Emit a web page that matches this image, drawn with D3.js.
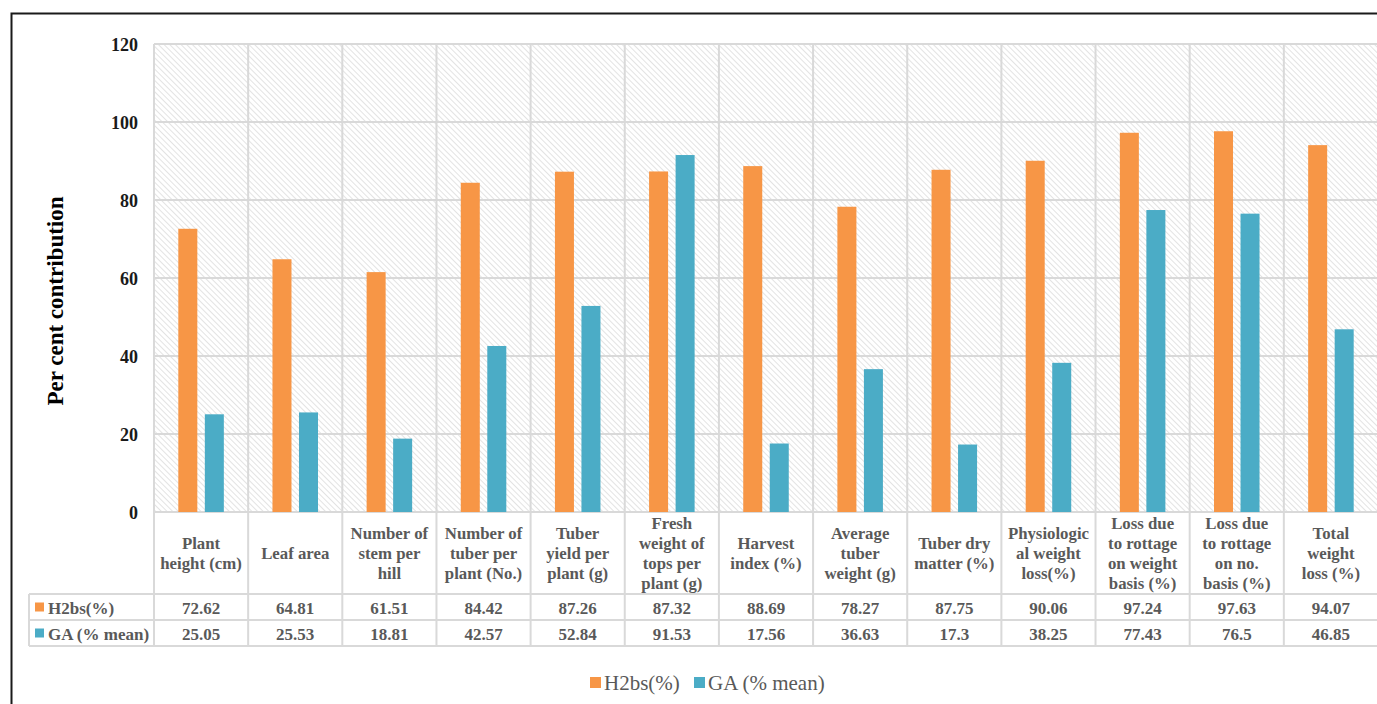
<!DOCTYPE html>
<html>
<head>
<meta charset="utf-8">
<script src="https://cdn.jsdelivr.net/npm/d3@7"></script>
<style>
  html, body { margin: 0; padding: 0; background: #fff; }
  svg { display: block; }
</style>
</head>
<body>
<svg id="chart" width="1377" height="704"></svg>
<script>
// Trait names (line breaks as shown in the data table header)
const categories = [
  "Plant|height (cm)", "Leaf area", "Number of|stem per|hill", "Number of|tuber per|plant (No.)",
  "Tuber|yield per|plant (g)", "Fresh|weight of|tops per|plant (g)", "Harvest|index (%)",
  "Average|tuber|weight (g)", "Tuber dry|matter (%)", "Physiologic|al weight|loss(%)",
  "Loss due|to rottage|on weight|basis (%)", "Loss due|to rottage|on no.|basis (%)", "Total|weight|loss (%)"
];
const seriesNames = ["H2bs(%)", "GA (% mean)"];
const h2bs = [72.62, 64.81, 61.51, 84.42, 87.26, 87.32, 88.69, 78.27, 87.75, 90.06, 97.24, 97.63, 94.07];
const gaMean = [25.05, 25.53, 18.81, 42.57, 52.84, 91.53, 17.56, 36.63, 17.3, 38.25, 77.43, 76.5, 46.85];
const tableLabels = ["72.62", "64.81", "61.51", "84.42", "87.26", "87.32", "88.69", "78.27", "87.75", "90.06", "97.24", "97.63", "94.07"];
const tableLabelsGA = ["25.05", "25.53", "18.81", "42.57", "52.84", "91.53", "17.56", "36.63", "17.3", "38.25", "77.43", "76.5", "46.85"];
const yTicks = [0, 20, 40, 60, 80, 100, 120];
const colors = ["#F79646", "#4BACC6"];

const svg = d3.select("#chart");
const serif = "'Liberation Serif', 'Times New Roman', serif";
const gridColor = "#d9d9d9";
const textGrey = "#595959";

const plot = { left: 154, right: 1378, top: 44, bottom: 512 };
const rowCat = { top: 512, bottom: 594 };
const rowA = { top: 594, bottom: 620 };
const rowB = { top: 620, bottom: 646 };
const tableLeft = 29;

// Outer chart frame
svg.append("rect")
  .attr("x", 11.5).attr("y", 13.5)
  .attr("width", 1420).attr("height", 740)
  .attr("fill", "none").attr("stroke", "#1a1a1a").attr("stroke-width", 2);

// Hatched plot background (downward diagonal)
const defs = svg.append("defs");
const pat = defs.append("pattern")
  .attr("id", "hatch").attr("patternUnits", "userSpaceOnUse")
  .attr("width", 4).attr("height", 4)
  .attr("patternTransform", "rotate(-45)");
pat.append("rect").attr("width", 4).attr("height", 4).attr("fill", "#ffffff");
pat.append("line").attr("x1", 0).attr("y1", 0).attr("x2", 0).attr("y2", 4)
  .attr("stroke", "#dcdcdc").attr("stroke-width", 1.6);

const x = d3.scaleBand().domain(d3.range(categories.length))
  .range([plot.left, plot.right]).paddingInner(0).paddingOuter(0);
const xs = d3.scaleBand().domain([0, 1])
  .range([0, x.bandwidth()]).paddingInner(0.283).paddingOuter(0.917);
const y = d3.scaleLinear().domain([0, 120]).range([plot.bottom, plot.top]);

svg.append("rect")
  .attr("x", plot.left).attr("y", plot.top)
  .attr("width", plot.right - plot.left).attr("height", plot.bottom - plot.top)
  .attr("fill", "url(#hatch)");

// Horizontal gridlines
svg.append("g").selectAll("line").data(yTicks).join("line")
  .attr("x1", plot.left).attr("x2", plot.right)
  .attr("y1", d => y(d)).attr("y2", d => y(d))
  .attr("stroke", gridColor).attr("stroke-width", 2);

// Vertical category dividers through plot and table
const bounds = d3.range(categories.length + 1).map(i => plot.left + i * x.step());
svg.append("g").selectAll("line").data(bounds).join("line")
  .attr("x1", d => d).attr("x2", d => d)
  .attr("y1", plot.top).attr("y2", rowB.bottom)
  .attr("stroke", gridColor).attr("stroke-width", 2);

// Table horizontal rules
const tableRules = [
  { x1: plot.left, y: rowCat.bottom },
  { x1: tableLeft, y: rowA.top },
  { x1: tableLeft, y: rowB.top },
  { x1: tableLeft, y: rowB.bottom }
];
svg.append("g").selectAll("line").data(tableRules).join("line")
  .attr("x1", d => d.x1).attr("x2", plot.right)
  .attr("y1", d => d.y).attr("y2", d => d.y)
  .attr("stroke", gridColor).attr("stroke-width", 2);
svg.append("line")
  .attr("x1", tableLeft).attr("x2", tableLeft)
  .attr("y1", rowA.top).attr("y2", rowB.bottom)
  .attr("stroke", gridColor).attr("stroke-width", 2);

// Bars
const series = [h2bs, gaMean];
series.forEach((vals, s) => {
  svg.append("g").selectAll("rect").data(vals).join("rect")
    .attr("x", (d, i) => x(i) + xs(s))
    .attr("width", xs.bandwidth())
    .attr("y", d => y(d))
    .attr("height", d => y(0) - y(d))
    .attr("fill", colors[s]);
});

// Y axis tick labels
const yAxis = d3.axisLeft(y).tickValues(yTicks).tickSize(0).tickPadding(0);
const yg = svg.append("g").attr("transform", `translate(${138},0)`).call(yAxis);
yg.select(".domain").remove();
yg.selectAll("text")
  .attr("font-family", serif).attr("font-weight", "bold")
  .attr("font-size", 18).attr("fill", "#1a1a1a").attr("dy", "0.35em");

// Y axis title
svg.append("text")
  .attr("transform", `translate(63,301) rotate(-90)`)
  .attr("text-anchor", "middle")
  .attr("font-family", serif).attr("font-weight", "bold")
  .attr("font-size", 23).attr("fill", "#000")
  .text("Per cent contribution");

// Category header cells
const lineH = 20;
const catMid = (rowCat.top + rowCat.bottom) / 2;
const catG = svg.append("g").selectAll("text").data(categories).join("text")
  .attr("text-anchor", "middle")
  .attr("font-family", serif).attr("font-weight", "bold")
  .attr("font-size", 16.8).attr("fill", textGrey);
catG.each(function (d, i) {
  const lines = d.split("|");
  const t = d3.select(this);
  const y0 = catMid - (lines.length - 1) * lineH / 2;
  lines.forEach((ln, k) => {
    t.append("tspan")
      .attr("x", x(i) + x.bandwidth() / 2)
      .attr("y", y0 + k * lineH)
      .attr("dy", "0.35em")
      .text(ln);
  });
});

// Value rows
[[tableLabels, rowA], [tableLabelsGA, rowB]].forEach(([labels, row]) => {
  svg.append("g").selectAll("text").data(labels).join("text")
    .attr("x", (d, i) => x(i) + x.bandwidth() / 2)
    .attr("y", (row.top + row.bottom) / 2 + 1)
    .attr("dy", "0.35em")
    .attr("text-anchor", "middle")
    .attr("font-family", serif).attr("font-weight", "bold")
    .attr("font-size", 17).attr("fill", textGrey)
    .text(d => d);
});

// Row headers with legend keys
[rowA, rowB].forEach((row, s) => {
  const cy = (row.top + row.bottom) / 2;
  svg.append("rect")
    .attr("x", 35).attr("y", cy - 4.5).attr("width", 9).attr("height", 9)
    .attr("fill", colors[s]);
  svg.append("text")
    .attr("x", 48).attr("y", cy + 1).attr("dy", "0.35em")
    .attr("font-family", serif).attr("font-weight", "bold")
    .attr("font-size", 17).attr("fill", textGrey)
    .text(seriesNames[s]);
});

// Bottom legend
const legend = svg.append("g").attr("font-family", serif).attr("font-size", 21).attr("fill", textGrey);
const legendItems = [{ x: 590, s: 0 }, { x: 694, s: 1 }];
legendItems.forEach(it => {
  legend.append("rect")
    .attr("x", it.x).attr("y", 677).attr("width", 11).attr("height", 11)
    .attr("fill", colors[it.s]);
  legend.append("text")
    .attr("x", it.x + 14).attr("y", 683).attr("dy", "0.35em")
    .text(seriesNames[it.s]);
});
</script>
</body>
</html>
